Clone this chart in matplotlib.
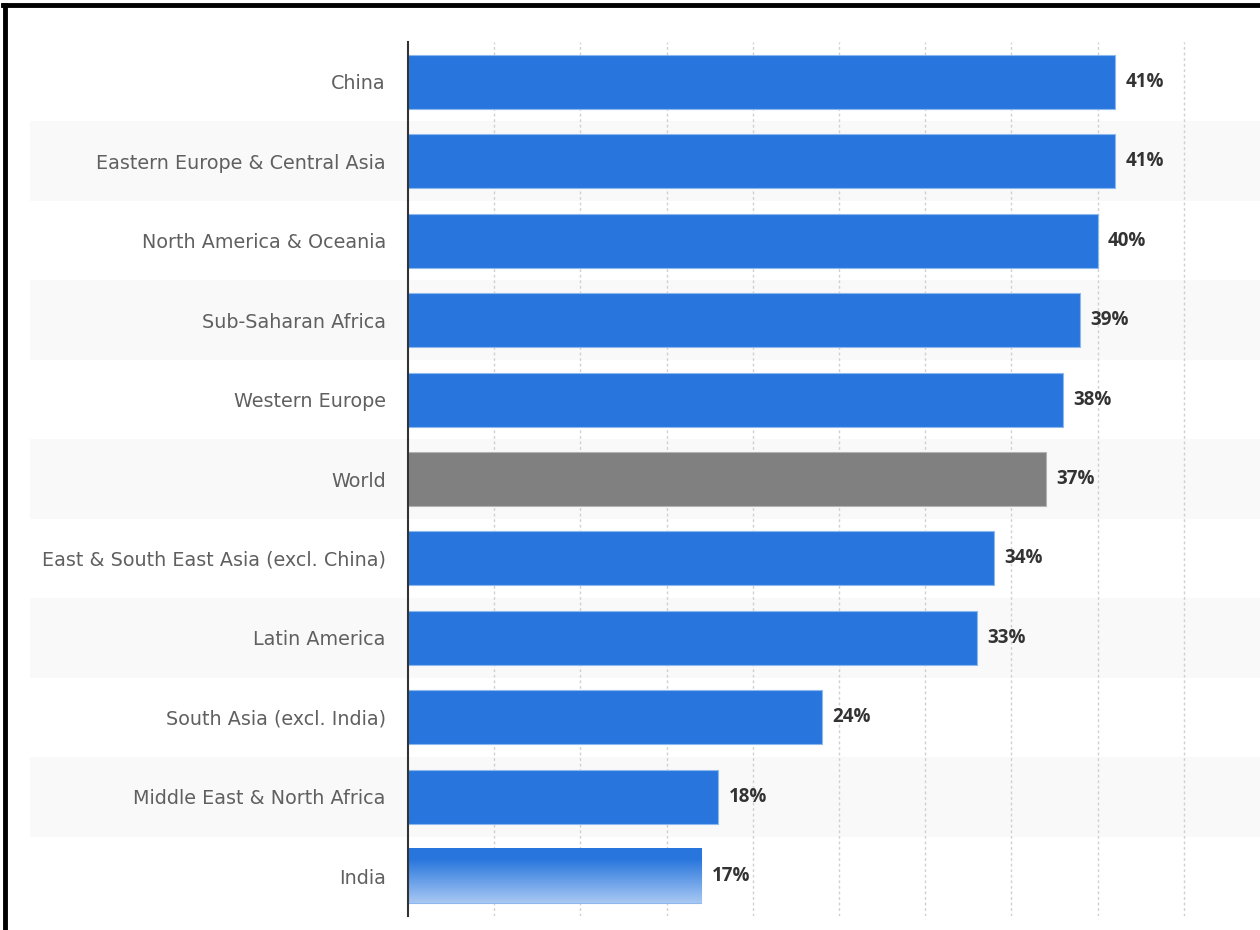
import matplotlib
matplotlib.use("Agg")
import matplotlib.pyplot as plt
import numpy as np
from matplotlib.lines import Line2D
from matplotlib.colors import to_rgb

regions = [
    "China",
    "Eastern Europe & Central Asia",
    "North America & Oceania",
    "Sub-Saharan Africa",
    "Western Europe",
    "World",
    "East & South East Asia (excl. China)",
    "Latin America",
    "South Asia (excl. India)",
    "Middle East & North Africa",
    "India",
]
shares = [41, 41, 40, 39, 38, 37, 34, 33, 24, 18, 17]
highlight = "World"

BLUE = "#2876dd"
GREY = "#808080"

plt.rcParams["font.family"] = ["DejaVu Sans"]

fig = plt.figure(figsize=(12.6, 9.3), dpi=100)
ax = fig.add_axes([408 / 1260, 1 - 916 / 930, 852 / 1260, 874 / 930])

n = len(regions)
ypos = np.arange(n)
colors = [GREY if r == highlight else BLUE for r in regions]

# alternating row bands reaching under the category labels
for i in range(n):
    if i % 2 == 1:
        ax.axhspan(i - 0.5, i + 0.5, xmin=-0.444, xmax=1.0, color="#f9f9f9",
                   zorder=0, clip_on=False, lw=0)

bars = ax.barh(ypos, shares, height=0.68, color=colors, zorder=3,
               edgecolor=[(0.55, 0.72, 0.93) if c == BLUE else (0.7, 0.7, 0.7) for c in colors],
               linewidth=0.8)

# fade on the last bar
last = bars[-1]
x0, y0 = last.get_x(), last.get_y()
w, h = last.get_width(), last.get_height()
top = np.array(to_rgb(BLUE))
bottom = np.array(to_rgb("#a8c8f2"))
t = np.clip((np.linspace(0, 1, 100) - 0.2) / 0.8, 0, 1)[:, None]
grad = top * (1 - t) + bottom * t
ax.imshow(grad[:, None, :], extent=(x0, x0 + w, y0 + h, y0), aspect="auto",
          zorder=3.5, interpolation="bilinear")

for b, v in zip(bars, shares):
    ax.text(b.get_width() + 0.6, b.get_y() + b.get_height() / 2, f"{v}%",
            va="center", ha="left", fontsize=13.5, fontweight="bold",
            family=["Open Sans", "DejaVu Sans"], color="#333333", zorder=4)

ax.set_yticks(ypos)
ax.set_yticklabels(regions, fontsize=13.8, color="#606060")
ax.tick_params(axis="y", length=0, pad=16)
ax.set_xticks(np.arange(5, 50, 5))
ax.tick_params(axis="x", length=0, labelbottom=False)
ax.xaxis.grid(True, color="#d0d0d0", linestyle=(0, (2, 2)), linewidth=1, zorder=1)
ax.set_axisbelow(True)
ax.set_xlim(0, 852 / 17.24)
ax.set_ylim(n - 0.5, -0.5)

for s in ["top", "right", "bottom"]:
    ax.spines[s].set_visible(False)
ax.spines["left"].set_color("#333333")
ax.spines["left"].set_linewidth(1.5)
ax.spines["left"].set_zorder(5)

# frame edges on the top and left of the figure
fig.add_artist(Line2D([3 / 1260, 1], [1 - 5 / 930, 1 - 5 / 930], color="black",
                      lw=3.5, transform=fig.transFigure))
fig.add_artist(Line2D([5 / 1260, 5 / 1260], [0, 1 - 5 / 930], color="black",
                      lw=3.5, transform=fig.transFigure))

fig.savefig("out.png", dpi=100, facecolor="white")
